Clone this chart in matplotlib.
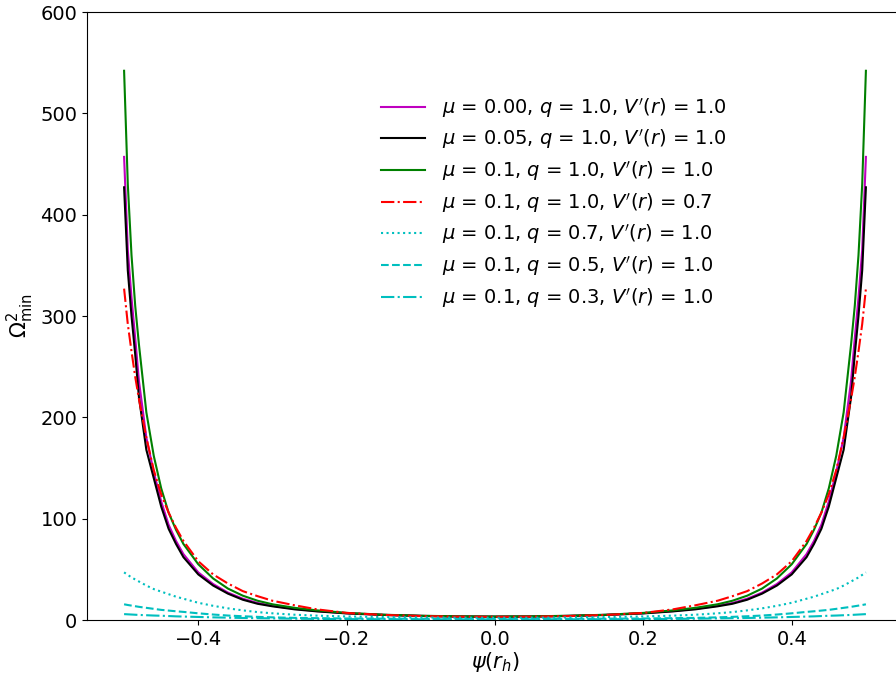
import matplotlib
matplotlib.use("Agg")
import matplotlib.pyplot as plt

psi = [-0.50, -0.495, -0.49, -0.485, -0.48, -0.47, -0.46, -0.45, -0.44, -0.43, -0.42,
       -0.40, -0.38, -0.36, -0.34, -0.32, -0.30, -0.27, -0.24, -0.20, -0.15, -0.10, -0.05,
       0.00,
       0.05, 0.10, 0.15, 0.20, 0.24, 0.27, 0.30, 0.32, 0.34, 0.36, 0.38, 0.40,
       0.42, 0.43, 0.44, 0.45, 0.46, 0.47, 0.48, 0.485, 0.49, 0.495, 0.50]

mu000_q10_v10 = [457, 365, 318, 278, 236, 180, 146, 117, 94, 78, 65, 47, 35.5, 27, 21, 16.8, 14, 11, 8.8, 6.7, 5.1, 4.1, 3.5,
                 3.3,
                 3.5, 4.1, 5.1, 6.7, 8.8, 11, 14, 16.8, 21, 27, 35.5, 47, 65, 78, 94, 117, 146, 180, 236, 278, 318, 365, 457]
mu005_q10_v10 = [427, 345, 300, 262, 220, 168, 140, 112, 90, 75, 62, 45, 34, 26, 20, 16, 13.5, 10.5, 8.5, 6.5, 5.0, 4.0, 3.4,
                 3.2,
                 3.4, 4.0, 5.0, 6.5, 8.5, 10.5, 13.5, 16, 20, 26, 34, 45, 62, 75, 90, 112, 140, 168, 220, 262, 300, 345, 427]
mu01_q10_v10 = [542, 430, 360, 310, 272, 205, 162, 130, 106, 89, 75, 55, 41, 31, 24, 19, 15.5, 12, 9.5, 7, 5.2, 4.2, 3.6,
                3.4,
                3.6, 4.2, 5.2, 7, 9.5, 12, 15.5, 19, 24, 31, 41, 55, 75, 89, 106, 130, 162, 205, 272, 310, 360, 430, 542]
mu01_q10_v07 = [327, 292, 265, 240, 218, 180, 148, 124, 106, 91, 78, 58, 45, 36, 28.5, 23.5, 19, 14.5, 10.5, 7, 5.0, 3.9, 3.3,
                3.1,
                3.3, 3.9, 5.0, 7, 10.5, 14.5, 19, 23.5, 28.5, 36, 45, 58, 78, 91, 106, 124, 148, 180, 218, 240, 265, 292, 327]
mu01_q07_v10 = [47, 44.5, 42, 40, 38, 34, 30.5, 28, 25.5, 23, 21, 17, 14, 11.5, 9.5, 7.8, 6.6, 5.2, 4.3, 3.5, 2.9, 2.5, 2.3,
                2.2,
                2.3, 2.5, 2.9, 3.5, 4.3, 5.2, 6.6, 7.8, 9.5, 11.5, 14, 17, 21, 23, 25.5, 28, 30.5, 34, 38, 40, 42, 44.5, 47]
mu01_q05_v10 = [15.5, 14.8, 14.2, 13.6, 13, 12, 11, 10, 9.3, 8.6, 8, 6.6, 5.4, 4.4, 3.7, 3.1, 2.6, 2.1, 1.8, 1.5, 1.3, 1.2, 1.1,
                1.1,
                1.1, 1.2, 1.3, 1.5, 1.8, 2.1, 2.6, 3.1, 3.7, 4.4, 5.4, 6.6, 8, 8.6, 9.3, 10, 11, 12, 13, 13.6, 14.2, 14.8, 15.5]
mu01_q03_v10 = [5.8, 5.6, 5.4, 5.2, 5.0, 4.7, 4.4, 4.2, 3.9, 3.6, 3.4, 3.0, 2.6, 2.3, 2.0, 1.8, 1.6, 1.3, 1.1, 0.9, 0.8, 0.7, 0.65,
                0.6,
                0.65, 0.7, 0.8, 0.9, 1.1, 1.3, 1.6, 1.8, 2.0, 2.3, 2.6, 3.0, 3.4, 3.6, 3.9, 4.2, 4.4, 4.7, 5.0, 5.2, 5.4, 5.6, 5.8]

labels = [
    r'$\mu$ = 0.00, $q$ = 1.0, $V^{\prime}(r)$ = 1.0',
    r'$\mu$ = 0.05, $q$ = 1.0, $V^{\prime}(r)$ = 1.0',
    r'$\mu$ = 0.1, $q$ = 1.0, $V^{\prime}(r)$ = 1.0',
    r'$\mu$ = 0.1, $q$ = 1.0, $V^{\prime}(r)$ = 0.7',
    r'$\mu$ = 0.1, $q$ = 0.7, $V^{\prime}(r)$ = 1.0',
    r'$\mu$ = 0.1, $q$ = 0.5, $V^{\prime}(r)$ = 1.0',
    r'$\mu$ = 0.1, $q$ = 0.3, $V^{\prime}(r)$ = 1.0',
]
series = [mu000_q10_v10, mu005_q10_v10, mu01_q10_v10, mu01_q10_v07,
          mu01_q07_v10, mu01_q05_v10, mu01_q03_v10]
colors = ['m', 'k', 'g', 'r', 'c', 'c', 'c']
styles = ['-', '-', '-', '-.', ':', '--', '-.']

fig = plt.figure(figsize=(8.96, 6.78), dpi=100)
ax = fig.add_axes([87/896, 58/678, 816/896, 608/678])

for y, c, ls, lab in zip(series, colors, styles, labels):
    ax.plot(psi, y, color=c, linestyle=ls, linewidth=1.5, label=lab)

ax.set_ylim(0, 600)
ax.set_xlim(-0.55, 0.55)
ax.set_xticks([-0.4, -0.2, 0.0, 0.2, 0.4])
ax.set_yticks([0, 100, 200, 300, 400, 500, 600])
ax.tick_params(labelsize=14)
ax.set_xlabel(r'$\psi(r_h)$', fontsize=15, labelpad=1)
ax.set_ylabel(r'$\Omega^2_{\rm min}$', fontsize=15, labelpad=3)

ax.legend(loc='upper left', bbox_to_anchor=(0.3505, 0.875), borderaxespad=0,
          frameon=False, fontsize=14, handlelength=2.27, handletextpad=0.88,
          labelspacing=0.395)

fig.savefig('out.png', dpi=100)
